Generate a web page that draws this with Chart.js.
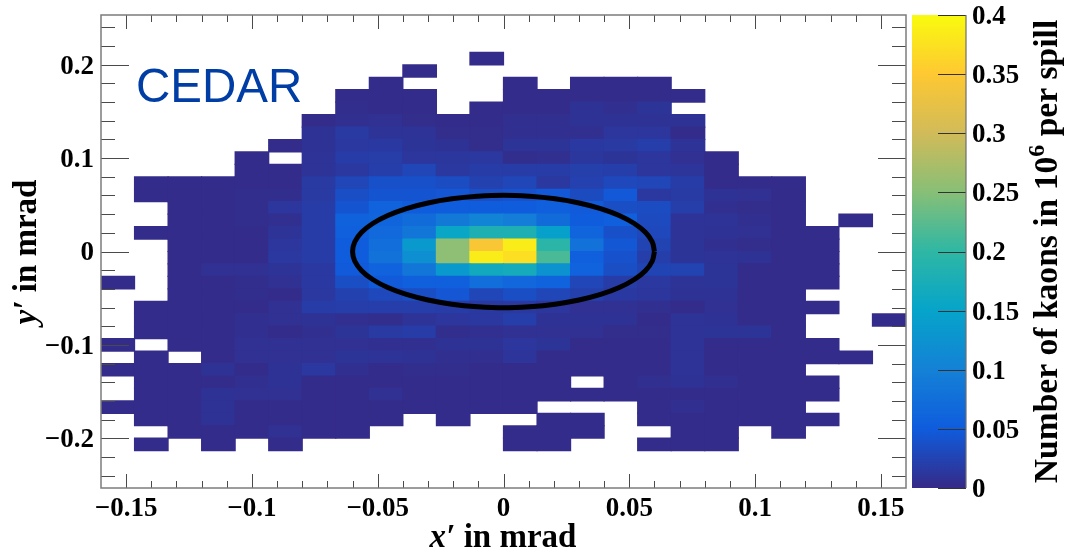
<!DOCTYPE html>
<html><head><meta charset="utf-8">
<style>html,body{margin:0;padding:0;background:#fff}canvas{position:absolute;left:0;top:0}</style>
<script src="https://cdn.jsdelivr.net/npm/chart.js@4/dist/chart.umd.js"></script>
</head><body>
<canvas id="main" width="1066" height="551"></canvas>
<canvas id="bar" width="1066" height="551"></canvas>
<script>
const _ = null;
// Kaons in 10^-3 x 10^6 per spill, top row first, left column first
const kaonRows = [
[_,_,_,_,_,_,_,_,_,_,_,_,_,_,_,_,_,_,_,_,_,_,_,_],
[_,_,_,_,_,_,_,_,_,_,_,_,_,_,_,_,_,_,_,_,_,_,_,_],
[_,_,_,_,_,_,_,_,_,_,_,_,_,_,_,_,_,_,_,_,_,_,_,_],
[_,_,_,_,_,_,_,_,_,_,_,2,_,_,_,_,_,_,_,_,_,_,_,_],
[_,_,_,_,_,_,_,_,_,2,_,_,_,_,_,_,_,_,_,_,_,_,_,_],
[_,_,_,_,_,_,_,_,2,_,_,_,2,_,2,2,2,_,_,_,_,_,_,_],
[_,_,_,_,_,_,_,2,2,2,_,_,2,2,2,2,2,2,_,_,_,_,_,_],
[_,_,_,_,_,_,_,4,2,2,_,2,2,2,8,6,10,_,_,_,_,_,_,_],
[_,_,_,_,_,_,2,6,7,3,2,2,6,6,8,8,8,8,_,_,_,_,_,_],
[_,_,_,_,_,_,8,16,9,9,3,3,6,6,5,12,12,2,_,_,_,_,_,_],
[_,_,_,_,_,2,8,14,15,10,8,3,10,10,15,16,20,9,_,_,_,_,_,_],
[_,_,_,_,2,_,9,18,19,12,13,14,4,5,13,10,12,7,2,_,_,_,_,_],
[_,_,_,_,2,2,9,14,20,28,14,18,18,18,21,20,12,11,2,_,_,_,_,_],
[_,2,2,2,2,2,16,28,38,38,34,24,28,14,23,30,28,18,2,2,2,_,_,_],
[_,2,2,2,4,4,16,36,42,42,44,36,40,46,33,46,14,17,8,7,2,_,_,_],
[_,_,2,2,4,12,18,42,60,52,52,52,52,55,48,36,34,20,6,3,2,_,_,_],
[_,_,2,2,4,5,18,58,62,72,90,105,95,72,52,55,32,9,9,6,2,_,2,_],
[_,2,2,2,2,9,18,55,68,85,155,180,180,145,62,38,30,9,8,7,2,2,_,_],
[_,_,2,2,2,12,18,50,75,135,255,345,385,195,80,45,25,10,6,3,2,2,_,_],
[_,_,2,2,2,14,18,50,80,120,255,385,372,215,55,40,20,10,9,8,2,2,_,_],
[_,_,2,7,7,9,15,48,60,85,135,165,170,125,60,36,26,25,10,2,2,2,_,_],
[2,_,2,2,4,7,15,36,48,55,55,75,65,60,28,18,14,9,10,2,2,2,_,_],
[_,_,2,2,4,2,14,24,30,36,44,28,36,28,22,15,12,8,8,2,2,_,_,_],
[_,2,2,2,2,7,18,20,20,20,18,15,14,12,7,7,5,2,7,2,2,2,_,_],
[_,2,2,2,6,7,8,6,4,9,12,14,20,8,8,8,2,9,8,2,2,_,_,2],
[_,2,2,2,6,2,6,10,16,18,4,6,7,7,7,3,3,9,10,10,2,_,_,_],
[2,_,2,2,7,7,7,7,6,6,8,8,12,10,2,2,2,9,2,2,2,2,_,_],
[_,2,_,2,7,7,7,10,9,8,5,5,11,2,2,2,2,9,2,2,2,2,2,_],
[2,2,2,8,2,8,14,5,2,4,4,2,2,2,2,2,2,9,2,2,2,_,_,_],
[_,2,2,2,6,8,2,2,2,2,2,2,2,2,_,2,6,8,6,2,2,2,_,_],
[_,2,2,8,7,7,2,2,7,2,2,2,2,2,2,2,2,2,2,2,2,2,_,_],
[2,2,2,8,2,2,2,2,2,2,2,2,2,_,_,_,2,6,2,2,2,_,_,_],
[_,2,2,8,2,2,2,2,2,_,2,_,_,2,2,_,2,2,2,2,2,2,_,_],
[_,_,2,2,2,7,2,2,_,_,_,_,2,2,2,_,_,2,2,_,2,_,_,_],
[_,2,_,2,_,2,_,_,_,_,_,_,2,2,_,_,2,2,2,_,_,_,_,_],
[_,_,_,_,_,_,_,_,_,_,_,_,_,_,_,_,_,_,_,_,_,_,_,_],
[_,_,_,_,_,_,_,_,_,_,_,_,_,_,_,_,_,_,_,_,_,_,_,_],
[_,_,_,_,_,_,_,_,_,_,_,_,_,_,_,_,_,_,_,_,_,_,_,_]
];
const binWidth = 0.32 / 24;
const xMin = -0.16, xMax = 0.16, yMax = 0.25333;
const xTickValues = [-0.15, -0.1, -0.05, 0, 0.05, 0.1, 0.15];
const yTickValues = [-0.2, -0.1, 0, 0.1, 0.2];
const xMinorTicks = [-0.14,-0.13,-0.12,-0.11,-0.09,-0.08,-0.07,-0.06,-0.04,-0.03,-0.02,-0.01,0.01,0.02,0.03,0.04,0.06,0.07,0.08,0.09,0.11,0.12,0.13,0.14];
const yMinorTicks = [-0.24,-0.22,-0.18,-0.16,-0.14,-0.12,-0.08,-0.06,-0.04,-0.02,0.02,0.04,0.06,0.08,0.12,0.14,0.16,0.18,0.22,0.24];
const barTickValues = [0, 0.05, 0.1, 0.15, 0.2, 0.25, 0.3, 0.35, 0.4];
const ellipseX = [0.060,0.0591,0.0564,0.052,0.046,0.0386,0.03,0.0205,0.0104,0,-0.0104,-0.0205,-0.03,-0.0386,-0.046,-0.052,-0.0564,-0.0591,-0.060,-0.0591,-0.0564,-0.052,-0.046,-0.0386,-0.03,-0.0205,-0.0104,0,0.0104,0.0205,0.03,0.0386,0.046,0.052,0.0564,0.0591,0.060];
const ellipseY = [0,0.0104,0.0205,0.03,0.0386,0.046,0.052,0.0564,0.0591,0.0603,0.0591,0.0564,0.052,0.046,0.0386,0.03,0.0205,0.0104,0,-0.0104,-0.0205,-0.03,-0.0386,-0.046,-0.052,-0.0564,-0.0591,-0.0603,-0.0591,-0.0564,-0.052,-0.046,-0.0386,-0.03,-0.0205,-0.0104,0];
const paletteStops = [0,0.125,0.25,0.375,0.5,0.625,0.75,0.875,1];
const paletteR = [0.2082,0.0592,0.0780,0.0232,0.1802,0.5301,0.8186,0.9956,0.9764];
const paletteG = [0.1664,0.3599,0.5041,0.6419,0.7178,0.7492,0.7328,0.7862,0.9832];
const paletteB = [0.5293,0.8684,0.8385,0.7914,0.6425,0.4662,0.3499,0.1968,0.0539];
const zMax = 0.4;
const serif = '"Liberation Serif"';

function colorAt(t){
  t = Math.max(0, Math.min(1, t));
  let i = 0;
  while (i < paletteStops.length - 2 && t > paletteStops[i+1]) i++;
  const f = (t - paletteStops[i]) / (paletteStops[i+1] - paletteStops[i]);
  const m = a => Math.round(255 * (a[i] + (a[i+1] - a[i]) * f));
  return `rgb(${m(paletteR)},${m(paletteG)},${m(paletteB)})`;
}
const fmt = v => {
  const a = Math.abs(v);
  if (a < 1e-9) return '0';
  return (v < 0 ? '\u2212' : '') + String(+a.toFixed(2));
};

const cells = [];
kaonRows.forEach((row, r) => row.forEach((v, c) => {
  if (v === null) return;
  cells.push({ x: xMin + (c + 0.5) * binWidth, y: [yMax - (r + 1) * binWidth, yMax - r * binWidth], v: v / 1000 });
}));

function drawRuns(ctx, runs, x, y, angle){
  ctx.save();
  ctx.translate(x, y);
  ctx.rotate(angle);
  ctx.textBaseline = 'alphabetic';
  ctx.textAlign = 'left';
  ctx.fillStyle = '#000';
  let w = 0;
  runs.forEach(r => { ctx.font = r.font; w += ctx.measureText(r.text).width; });
  let px = -w / 2;
  runs.forEach(r => {
    ctx.font = r.font;
    ctx.fillText(r.text, px, r.dy || 0);
    px += ctx.measureText(r.text).width;
  });
  ctx.restore();
}
const F = 'bold 33px ' + serif, FI = 'italic bold 33px ' + serif;
const FB = 'bold 33.6px ' + serif, FS = 'bold 24px ' + serif;

const framePlugin = {
  id: 'frame',
  afterDatasetsDraw(chart){
    const { ctx, chartArea: a, scales: { x, y } } = chart;
    ctx.save();
    ctx.lineWidth = 1;
    ctx.strokeStyle = '#4a4a4a';
    const hTick = (val, len) => {
      const p = Math.round(y.getPixelForValue(val)) + 0.5;
      ctx.beginPath();
      ctx.moveTo(a.left, p); ctx.lineTo(a.left + len, p);
      ctx.moveTo(a.right, p); ctx.lineTo(a.right - len, p);
      ctx.stroke();
    };
    const vTick = (val, len) => {
      const p = Math.round(x.getPixelForValue(val)) + 0.5;
      ctx.beginPath();
      ctx.moveTo(p, a.bottom); ctx.lineTo(p, a.bottom - len);
      ctx.moveTo(p, a.top); ctx.lineTo(p, a.top + len);
      ctx.stroke();
    };
    yTickValues.forEach(v => hTick(v, 28));
    yMinorTicks.forEach(v => hTick(v, 14));
    xTickValues.forEach(v => vTick(v, 14));
    xMinorTicks.forEach(v => vTick(v, 7));
    ctx.strokeStyle = '#7c7c7c';
    ctx.lineWidth = 1.5;
    ctx.strokeRect(a.left, a.top, a.right - a.left, a.bottom - a.top);
    ctx.restore();
    drawRuns(ctx, [{text:'x\u2032', font:FI},{text:' in mrad', font:F}], 503, 547, 0);
    drawRuns(ctx, [{text:'y\u2032', font:FI},{text:' in mrad', font:F}], 36, 252, -Math.PI/2);
    ctx.save();
    ctx.font = '47.5px "Liberation Sans"';
    ctx.fillStyle = '#003da5';
    ctx.fillText('CEDAR', 136, 102);
    ctx.restore();
  }
};

new Chart(document.getElementById('main'), {
  type: 'bar',
  data: { datasets: [
    { type: 'scatter', label: 'Ellipse', order: 0, showLine: true, tension: 0.4, fill: false,
      data: ellipseX.map((v, i) => ({ x: v, y: ellipseY[i] })),
      borderColor: '#000', borderWidth: 5, pointRadius: 0 },
    { type: 'bar', label: 'Kaons', order: 1, data: cells, grouped: false,
      barPercentage: 1, categoryPercentage: 1, borderSkipped: false, inflateAmount: 0.6,
      backgroundColor: c => colorAt((c.raw ? c.raw.v : 0) / zMax),
      borderWidth: 0 }
  ]},
  plugins: [framePlugin],
  options: {
    responsive: false, animation: false,
    layout: { padding: { top: 15, right: 160, left: 0, bottom: 0 } },
    plugins: { legend: { display: false }, tooltip: { enabled: false } },
    scales: {
      x: { type: 'linear', min: xMin, max: xMax, offset: false,
        afterBuildTicks: s => { s.ticks = xTickValues.map(v => ({ value: v })); },
        afterFit: s => { s.height = 63; s.paddingLeft = 0; s.paddingRight = 0; },
        grid: { display: false, drawTicks: false, offset: false }, border: { display: false },
        ticks: { color: '#000', font: { family: serif, weight: 'bold', size: 27 }, padding: 5, maxRotation: 0, autoSkip: false, callback: fmt } },
      y: { type: 'linear', min: -yMax, max: yMax, beginAtZero: false,
        afterBuildTicks: s => { s.ticks = yTickValues.map(v => ({ value: v })); },
        afterFit: s => { s.width = 101; s.paddingTop = 0; s.paddingBottom = 0; },
        grid: { display: false, drawTicks: false }, border: { display: false },
        ticks: { color: '#000', font: { family: serif, weight: 'bold', size: 27 }, padding: 7, labelOffset: 2, autoSkip: false, callback: fmt } }
    }
  }
});

const barPlugin = {
  id: 'barframe',
  afterDatasetsDraw(chart){
    const { ctx, chartArea: a, scales: { y } } = chart;
    ctx.save();
    ctx.lineWidth = 1;
    ctx.strokeStyle = '#333';
    barTickValues.forEach(v => {
      const p = Math.round(y.getPixelForValue(v)) + 0.5;
      ctx.beginPath(); ctx.moveTo(a.right, p); ctx.lineTo(a.right - 28, p); ctx.stroke();
    });
    ctx.strokeStyle = '#6e6e6e';
    ctx.lineWidth = 1.2;
    ctx.beginPath(); ctx.moveTo(a.right, a.top); ctx.lineTo(a.right, a.bottom); ctx.stroke();
    ctx.restore();
    drawRuns(ctx, [{text:'Number of kaons in 10', font:FB},{text:'6', font:FS, dy:-13},{text:' per spill', font:FB}], 1057, 251.5, -Math.PI/2);
  }
};
new Chart(document.getElementById('bar'), {
  type: 'bar',
  data: { labels: [''], datasets: [{ data: [[0, zMax]], barPercentage: 1, categoryPercentage: 1,
    backgroundColor: c => {
      const a = c.chart.chartArea;
      if (!a) return '#000';
      const g = c.chart.ctx.createLinearGradient(0, a.bottom, 0, a.top);
      paletteStops.forEach(s => g.addColorStop(s, colorAt(s)));
      return g;
    } }] },
  plugins: [barPlugin],
  options: {
    responsive: false, animation: false,
    layout: { padding: { top: 15, right: 0, left: 912, bottom: 63 } },
    plugins: { legend: { display: false }, tooltip: { enabled: false } },
    scales: {
      x: { display: false },
      y: { position: 'right', min: 0, max: zMax,
        afterBuildTicks: s => { s.ticks = barTickValues.map(v => ({ value: v })); },
        afterFit: s => { s.width = 100; s.paddingTop = 0; s.paddingBottom = 0; },
        grid: { display: false, drawTicks: false }, border: { display: false },
        ticks: { color: '#000', font: { family: serif, weight: 'bold', size: 27 }, padding: 6, labelOffset: 2, autoSkip: false, callback: fmt } }
    }
  }
});
</script>
</body></html>
